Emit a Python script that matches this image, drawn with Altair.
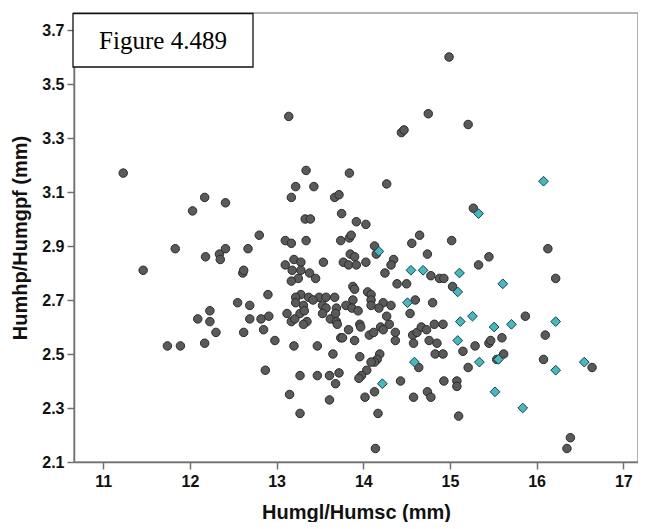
import altair as alt
import pandas as pd

circle_x = [13.14, 14.75, 14.44, 14.47, 14.99, 15.21, 11.23, 12.17, 12.41, 12.03,
            12.80, 11.83, 12.18, 12.34, 12.35, 12.41, 12.67, 11.46, 12.61, 12.62,
            12.55, 12.69, 12.23, 12.09, 12.23, 12.30, 12.17, 11.74, 11.89, 12.69,
            12.62, 12.82, 13.34, 13.84, 13.22, 13.43, 14.27, 13.17, 13.67, 13.72,
            13.75, 13.33, 13.39, 13.92, 14.03, 13.10, 13.17, 13.34, 13.74, 13.84,
            13.86, 14.13, 14.15, 14.56, 14.65, 14.74, 13.54, 13.10, 13.20, 13.28,
            13.18, 13.28, 13.38, 13.25, 13.17, 13.45, 13.77, 13.85, 13.90, 13.83,
            13.92, 14.03, 14.35, 14.32, 14.25, 14.78, 14.88, 14.39, 14.50, 13.88,
            13.90, 13.28, 13.22, 13.37, 12.90, 13.49, 13.57, 13.42, 13.67, 13.88,
            14.05, 14.09, 14.09, 14.23, 14.32, 14.60, 14.80, 13.22, 13.31, 13.53,
            13.57, 13.69, 13.80, 13.87, 13.94, 14.09, 14.18, 12.91, 13.12, 13.17,
            13.21, 13.27, 13.32, 13.35, 13.31, 13.53, 13.62, 13.68, 13.69, 13.70,
            13.96, 13.97, 14.07, 14.12, 14.20, 14.23, 14.30, 14.27, 14.37, 14.37,
            14.54, 14.57, 14.62, 14.67, 14.73, 14.82, 14.58, 14.76, 14.85, 14.83,
            12.85, 12.98, 13.20, 13.47, 13.74, 13.76, 13.83, 13.90, 13.65, 13.96,
            14.19, 14.16, 14.13, 14.09, 14.04, 13.98, 13.95, 13.72, 13.68, 13.61,
            13.47, 13.27, 12.87, 14.64, 14.43, 14.13, 13.15, 13.61, 14.02, 14.58,
            14.74, 14.78, 13.27, 14.17, 14.14, 14.92, 14.92, 15.15, 15.29, 15.87,
            16.10, 15.60, 15.45, 15.47, 15.62, 15.54, 15.21, 16.08, 16.64, 14.93,
            15.08, 15.08, 15.10, 16.39, 16.35, 15.27, 15.02, 16.13, 15.45, 15.33,
            14.93, 16.22, 15.03]
circle_y = [3.38, 3.39, 3.32, 3.33, 3.60, 3.35, 3.17, 3.08, 3.06, 3.03,
            2.94, 2.89, 2.86, 2.87, 2.85, 2.89, 2.89, 2.81, 2.80, 2.81,
            2.69, 2.68, 2.66, 2.63, 2.62, 2.58, 2.54, 2.53, 2.53, 2.63,
            2.58, 2.63, 3.18, 3.17, 3.12, 3.12, 3.13, 3.08, 3.08, 3.09,
            3.02, 3.00, 3.00, 2.99, 2.98, 2.92, 2.91, 2.92, 2.92, 2.93,
            2.94, 2.90, 2.87, 2.91, 2.94, 2.87, 2.84, 2.83, 2.85, 2.84,
            2.81, 2.81, 2.80, 2.78, 2.77, 2.78, 2.84, 2.87, 2.86, 2.83,
            2.83, 2.84, 2.85, 2.83, 2.80, 2.79, 2.78, 2.76, 2.76, 2.75,
            2.74, 2.72, 2.71, 2.71, 2.72, 2.71, 2.71, 2.70, 2.71, 2.70,
            2.73, 2.72, 2.70, 2.69, 2.68, 2.70, 2.69, 2.69, 2.68, 2.68,
            2.67, 2.67, 2.68, 2.67, 2.66, 2.68, 2.67, 2.64, 2.65, 2.62,
            2.63, 2.65, 2.66, 2.62, 2.61, 2.65, 2.63, 2.65, 2.62, 2.61,
            2.61, 2.60, 2.57, 2.58, 2.60, 2.59, 2.61, 2.64, 2.58, 2.55,
            2.65, 2.57, 2.58, 2.60, 2.59, 2.61, 2.54, 2.55, 2.54, 2.50,
            2.59, 2.55, 2.53, 2.53, 2.56, 2.56, 2.59, 2.55, 2.50, 2.49,
            2.50, 2.48, 2.47, 2.47, 2.44, 2.42, 2.41, 2.43, 2.39, 2.42,
            2.42, 2.42, 2.44, 2.45, 2.40, 2.36, 2.35, 2.33, 2.34, 2.34,
            2.36, 2.34, 2.28, 2.28, 2.15, 2.61, 2.50, 2.51, 2.53, 2.64,
            2.57, 2.56, 2.54, 2.55, 2.50, 2.48, 2.45, 2.48, 2.45, 2.40,
            2.40, 2.38, 2.27, 2.19, 2.15, 3.04, 2.92, 2.89, 2.86, 2.83,
            2.78, 2.78, 2.75]

diamond_x = [14.18, 14.55, 14.69, 14.51, 16.08, 15.33, 15.11, 15.61, 15.09, 15.26,
             15.12, 15.09, 15.51, 15.71, 16.22, 15.56, 15.34, 16.22, 16.55, 15.52,
             15.84, 14.59, 14.22]
diamond_y = [2.88, 2.81, 2.81, 2.69, 3.14, 3.02, 2.80, 2.76, 2.73, 2.64,
             2.62, 2.55, 2.60, 2.61, 2.62, 2.48, 2.47, 2.44, 2.47, 2.36,
             2.30, 2.47, 2.39]

x_ticks = [11, 12, 13, 14, 15, 16, 17]
y_ticks = [2.1, 2.3, 2.5, 2.7, 2.9, 3.1, 3.3, 3.5, 3.7]
x_title = "Humgl/Humsc (mm)"
y_title = "Humhp/Humgpf (mm)"
label_text = "Figure 4.489"

circles = pd.DataFrame({"x": circle_x, "y": circle_y})
diamonds = pd.DataFrame({"x": diamond_x, "y": diamond_y})

xs = alt.Scale(domain=[10.662, 17.17], nice=False, zero=False)
ys = alt.Scale(domain=[2.1, 3.763], nice=False, zero=False)

x_axis = alt.Axis(values=x_ticks, title=x_title, grid=False, format="d",
                  tickSize=7, labelPadding=4, titlePadding=13)
y_axis = alt.Axis(values=y_ticks, title=y_title, grid=False, format=".1f",
                  tickSize=7, labelPadding=3, titlePadding=11)

c_layer = alt.Chart(circles).mark_point(
    shape="circle", filled=True, size=72, fill="#5a5a5a", stroke="#2b2b2b",
    strokeWidth=1, opacity=1
).encode(
    x=alt.X("x:Q", scale=xs, axis=x_axis),
    y=alt.Y("y:Q", scale=ys, axis=y_axis),
)

d_layer = alt.Chart(diamonds).mark_point(
    shape="diamond", filled=True, size=95, fill="#3dbcc3", stroke="#1f3f42",
    strokeWidth=1, opacity=1
).encode(
    x=alt.X("x:Q", scale=xs, axis=x_axis),
    y=alt.Y("y:Q", scale=ys, axis=y_axis),
)

box = alt.Chart(pd.DataFrame({"t": [label_text]})).mark_rect(
    fill="white", stroke="#111111", strokeWidth=1.3
).encode(
    x=alt.value(-1), x2=alt.value(179), y=alt.value(0.5), y2=alt.value(54)
)

txt = alt.Chart(pd.DataFrame({"t": [label_text]})).mark_text(
    font="Liberation Serif", fontSize=25, color="black", align="center",
    baseline="middle"
).encode(
    text="t:N", x=alt.value(89), y=alt.value(28)
)

chart = alt.layer(c_layer, d_layer, box, txt).properties(
    width=564, height=449,
    padding={"left": 2, "top": 4, "right": 0, "bottom": 0},
).configure_view(
    stroke="#9a9a9a", strokeWidth=1.5
).configure_axis(
    labelFont="Liberation Sans", labelFontWeight="bold", labelFontSize=16,
    labelColor="#111111",
    titleFont="Liberation Sans", titleFontWeight="bold", titleFontSize=20,
    titleColor="#111111",
    domainColor="#707070", domainWidth=1.5, tickColor="#707070", tickWidth=1.5,
)

chart.save("out.html", embed_options={"renderer": "svg", "actions": False})
